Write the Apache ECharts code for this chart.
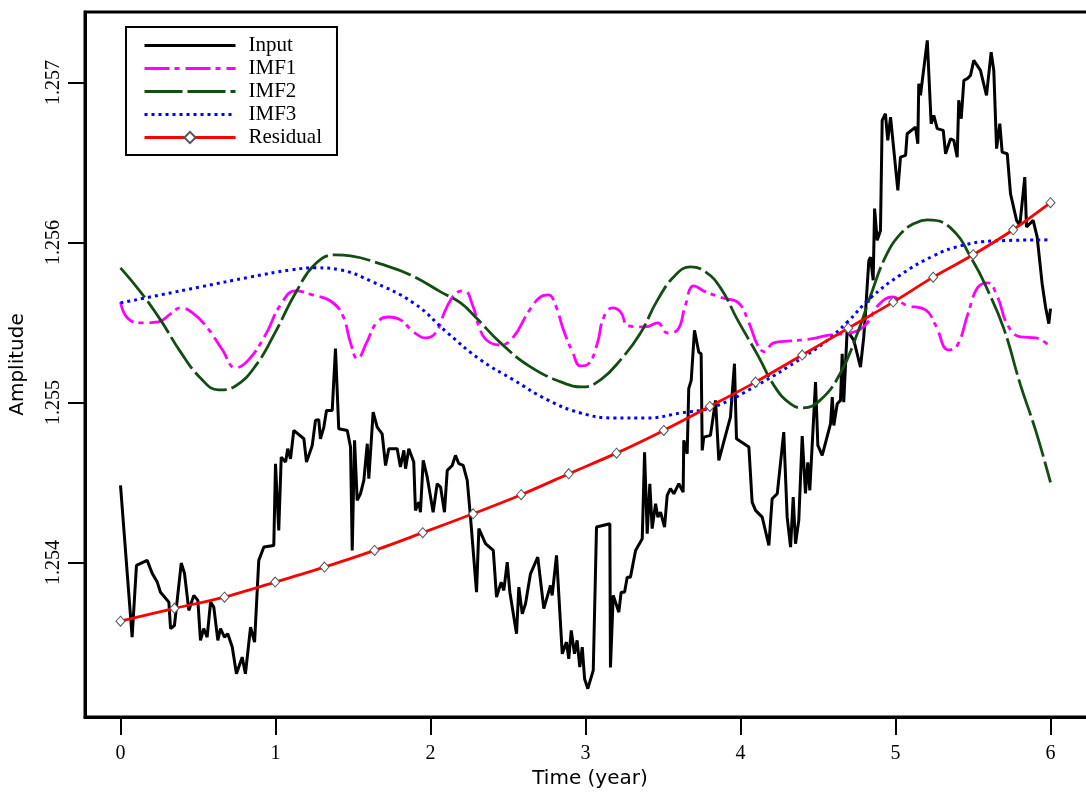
<!DOCTYPE html>
<html>
<head>
<meta charset="utf-8">
<title>Input, IMFs and residual</title>
<script src="https://cdn.jsdelivr.net/npm/echarts@6.0.0/dist/echarts.min.js"></script>
<style>
html, body { margin: 0; padding: 0; background: #fff; }
#chart { width: 1086px; height: 792px; }
</style>
</head>
<body>
<div id="chart"></div>
<script>
// [time (year), amplitude]
var inputPts = [
    [0, 1.254481], [0.075, 1.253533], [0.103, 1.253981], [0.172, 1.254013], [0.205, 1.253931],
    [0.237, 1.253877], [0.258, 1.253814], [0.312, 1.253752], [0.323, 1.253586], [0.348, 1.253606],
    [0.392, 1.253996], [0.413, 1.253931], [0.441, 1.253700], [0.473, 1.253794], [0.499, 1.253763],
    [0.516, 1.253513], [0.537, 1.253586], [0.559, 1.253533], [0.581, 1.253752], [0.602, 1.253721],
    [0.628, 1.253513], [0.645, 1.253586], [0.671, 1.253533], [0.692, 1.253554], [0.721, 1.253471],
    [0.748, 1.253304], [0.785, 1.253408], [0.806, 1.253304], [0.839, 1.253596], [0.865, 1.253502],
    [0.892, 1.254013], [0.925, 1.254096], [0.989, 1.254106], [1.000, 1.254617], [1.021, 1.254200],
    [1.037, 1.254658], [1.065, 1.254627], [1.079, 1.254711], [1.097, 1.254648], [1.118, 1.254825],
    [1.183, 1.254773], [1.200, 1.254627], [1.237, 1.254731], [1.258, 1.254888], [1.279, 1.254892],
    [1.290, 1.254773], [1.312, 1.254846], [1.329, 1.254950], [1.366, 1.254950], [1.387, 1.255336],
    [1.408, 1.254836], [1.463, 1.254825], [1.484, 1.254721], [1.495, 1.254075], [1.510, 1.254763],
    [1.527, 1.254388], [1.548, 1.254429], [1.570, 1.254513], [1.592, 1.254742], [1.602, 1.254523],
    [1.630, 1.254939], [1.656, 1.254846], [1.688, 1.254804], [1.710, 1.254606], [1.731, 1.254711],
    [1.785, 1.254711], [1.806, 1.254596], [1.828, 1.254700], [1.839, 1.254586], [1.860, 1.254711],
    [1.892, 1.254627], [1.903, 1.254325], [1.925, 1.254377], [1.935, 1.254314], [1.953, 1.254638],
    [1.979, 1.254533], [2.017, 1.254314], [2.043, 1.254492], [2.065, 1.254471], [2.090, 1.254314],
    [2.108, 1.254575], [2.140, 1.254606], [2.161, 1.254669], [2.183, 1.254617], [2.211, 1.254606],
    [2.237, 1.254513], [2.258, 1.254283], [2.297, 1.253814], [2.312, 1.254211], [2.355, 1.254117],
    [2.405, 1.254075], [2.426, 1.253783], [2.456, 1.253877], [2.473, 1.253825], [2.495, 1.254002],
    [2.512, 1.253814], [2.555, 1.253554], [2.570, 1.253846], [2.592, 1.253679], [2.613, 1.253742],
    [2.645, 1.253929], [2.692, 1.254033], [2.731, 1.253711], [2.774, 1.253856], [2.785, 1.253794],
    [2.813, 1.254044], [2.850, 1.253429], [2.877, 1.253502], [2.892, 1.253398], [2.908, 1.253575],
    [2.929, 1.253429], [2.946, 1.253513], [2.963, 1.253346], [2.979, 1.253471], [2.994, 1.253273],
    [3.015, 1.253211], [3.050, 1.253325], [3.071, 1.254221], [3.157, 1.254242], [3.161, 1.253344],
    [3.179, 1.253794], [3.215, 1.253689], [3.230, 1.253814], [3.252, 1.253814], [3.269, 1.253908],
    [3.290, 1.253908], [3.323, 1.254075], [3.366, 1.254148], [3.381, 1.254689], [3.398, 1.254179],
    [3.415, 1.254492], [3.430, 1.254211], [3.452, 1.254367], [3.467, 1.254283], [3.484, 1.254314],
    [3.510, 1.254221], [3.527, 1.254419], [3.548, 1.254461], [3.570, 1.254429], [3.602, 1.254492],
    [3.630, 1.254439], [3.634, 1.254763], [3.656, 1.254679], [3.666, 1.255086], [3.682, 1.255138],
    [3.703, 1.255450], [3.731, 1.255314], [3.746, 1.255304], [3.753, 1.254700], [3.763, 1.254783],
    [3.806, 1.254794], [3.839, 1.255013], [3.860, 1.254638], [3.935, 1.254908], [3.961, 1.255242],
    [3.974, 1.254773], [4.054, 1.254721], [4.075, 1.254377], [4.097, 1.254325], [4.140, 1.254283],
    [4.183, 1.254106], [4.204, 1.254398], [4.237, 1.254429], [4.279, 1.254814], [4.301, 1.254283],
    [4.323, 1.254096], [4.340, 1.254408], [4.355, 1.254117], [4.376, 1.254263], [4.398, 1.254789],
    [4.419, 1.254431], [4.434, 1.254625], [4.447, 1.254450], [4.484, 1.255127], [4.499, 1.254731],
    [4.527, 1.254669], [4.581, 1.254867], [4.592, 1.255033], [4.602, 1.254856], [4.624, 1.254992],
    [4.645, 1.255013], [4.656, 1.255304], [4.666, 1.255002], [4.688, 1.255450], [4.731, 1.255388],
    [4.774, 1.255221], [4.795, 1.255408], [4.806, 1.255554], [4.828, 1.255888], [4.839, 1.255908],
    [4.856, 1.255763], [4.865, 1.256211], [4.882, 1.256013], [4.903, 1.256075], [4.914, 1.256763],
    [4.935, 1.256804], [4.950, 1.256638], [4.968, 1.256783], [5.015, 1.256325], [5.032, 1.256533],
    [5.065, 1.256544], [5.075, 1.256679], [5.129, 1.256721], [5.144, 1.256617], [5.150, 1.256992],
    [5.161, 1.256919], [5.205, 1.257263], [5.230, 1.256742], [5.247, 1.256794], [5.269, 1.256711],
    [5.308, 1.256700], [5.323, 1.256554], [5.355, 1.256648], [5.376, 1.256638], [5.398, 1.256533],
    [5.408, 1.256888], [5.424, 1.256773], [5.441, 1.257013], [5.463, 1.257023], [5.484, 1.257044],
    [5.505, 1.257138], [5.548, 1.257075], [5.587, 1.256919], [5.617, 1.257189], [5.634, 1.257075],
    [5.652, 1.256586], [5.673, 1.256742], [5.688, 1.256564], [5.721, 1.256554], [5.742, 1.256304],
    [5.781, 1.256138], [5.802, 1.256106], [5.834, 1.256408], [5.845, 1.256096], [5.888, 1.256138],
    [5.914, 1.256033], [5.946, 1.255742], [5.968, 1.255596], [5.989, 1.255492], [6.000, 1.255586]
];

var imf1Pts = [
    [0, 1.255628], [0.045, 1.255528], [0.129, 1.255497], [0.245, 1.255503], [0.323, 1.255553],
    [0.387, 1.255591], [0.465, 1.255559], [0.561, 1.255466], [0.658, 1.255328], [0.742, 1.255216],
    [0.826, 1.255266], [0.935, 1.255422], [1.032, 1.255609], [1.129, 1.255697], [1.239, 1.255672],
    [1.355, 1.255634], [1.432, 1.255547], [1.484, 1.255372], [1.529, 1.255272], [1.587, 1.255372],
    [1.652, 1.255497], [1.729, 1.255534], [1.806, 1.255516], [1.890, 1.255441], [1.968, 1.255403],
    [2.032, 1.255434], [2.103, 1.255591], [2.168, 1.255684], [2.219, 1.255697], [2.271, 1.255609],
    [2.329, 1.255434], [2.387, 1.255372], [2.452, 1.255359], [2.535, 1.255409], [2.632, 1.255566],
    [2.710, 1.255659], [2.761, 1.255672], [2.806, 1.255609], [2.858, 1.255453], [2.916, 1.255316],
    [2.968, 1.255228], [3.019, 1.255241], [3.077, 1.255372], [3.116, 1.255528], [3.174, 1.255591],
    [3.226, 1.255566], [3.277, 1.255478], [3.387, 1.255472], [3.465, 1.255497], [3.529, 1.255434],
    [3.594, 1.255453], [3.645, 1.255609], [3.697, 1.255728], [3.774, 1.255691], [3.884, 1.255653],
    [3.987, 1.255622], [4.052, 1.255503], [4.110, 1.255359], [4.155, 1.255316], [4.213, 1.255372],
    [4.323, 1.255384], [4.452, 1.255397], [4.581, 1.255422], [4.710, 1.255434], [4.806, 1.255484],
    [4.890, 1.255609], [4.981, 1.255659], [5.065, 1.255609], [5.194, 1.255578], [5.258, 1.255484],
    [5.342, 1.255328], [5.400, 1.255359], [5.465, 1.255547], [5.529, 1.255716], [5.594, 1.255747],
    [5.658, 1.255659], [5.723, 1.255484], [5.806, 1.255409], [5.903, 1.255403], [6.000, 1.255347]
];

var imf2Pts = [
    [0, 1.255841], [0.129, 1.255691], [0.258, 1.255516], [0.387, 1.255316], [0.516, 1.255153],
    [0.632, 1.255078], [0.742, 1.255103], [0.871, 1.255228], [1.000, 1.255441], [1.129, 1.255684],
    [1.258, 1.255866], [1.387, 1.255922], [1.484, 1.255916], [1.677, 1.255866], [1.871, 1.255797],
    [2.065, 1.255691], [2.194, 1.255622], [2.290, 1.255534], [2.452, 1.255372], [2.645, 1.255222],
    [2.858, 1.255122], [2.981, 1.255097], [3.097, 1.255141], [3.226, 1.255266], [3.355, 1.255434],
    [3.465, 1.255641], [3.581, 1.255797], [3.677, 1.255847], [3.774, 1.255816], [3.871, 1.255716],
    [3.981, 1.255516], [4.110, 1.255297], [4.226, 1.255091], [4.323, 1.254991], [4.400, 1.254966],
    [4.516, 1.255016], [4.645, 1.255184], [4.755, 1.255434], [4.839, 1.255666], [4.935, 1.255909],
    [5.032, 1.256053], [5.129, 1.256122], [5.206, 1.256141], [5.355, 1.256091], [5.503, 1.255878],
    [5.594, 1.255703], [5.697, 1.255466], [5.806, 1.255110], [5.903, 1.254828], [6.000, 1.254500]
];

var imf3Pts = [
    [0, 1.255622], [0.258, 1.255672], [0.516, 1.255722], [0.839, 1.255784], [1.097, 1.255828],
    [1.258, 1.255841], [1.419, 1.255828], [1.613, 1.255759], [1.890, 1.255622], [2.110, 1.255434],
    [2.323, 1.255266], [2.535, 1.255141], [2.755, 1.255016], [2.968, 1.254934], [3.181, 1.254903],
    [3.400, 1.254903], [3.613, 1.254934], [3.826, 1.254972], [4.110, 1.255109], [4.406, 1.255284],
    [4.548, 1.255378], [4.690, 1.255503], [4.839, 1.255653], [5.032, 1.255797], [5.245, 1.255916],
    [5.419, 1.255978], [5.632, 1.256009], [6.000, 1.256016]
];

var residualPts = [
    [0, 1.253633], [0.348, 1.253713], [0.671, 1.253783], [0.998, 1.253877], [1.316, 1.253971],
    [1.639, 1.254075], [1.950, 1.254186], [2.275, 1.254304], [2.585, 1.254423], [2.892, 1.254554],
    [3.200, 1.254683], [3.505, 1.254825], [3.802, 1.254975], [4.097, 1.255127], [4.398, 1.255296],
    [4.695, 1.255464], [4.985, 1.255627], [5.243, 1.255783], [5.501, 1.255923], [5.759, 1.256079],
    [6.000, 1.256248]
];

var seriesNames = ['Input', 'IMF1', 'IMF2', 'IMF3', 'Residual'];
var xTicks = [0, 1, 2, 3, 4, 5, 6];
var yTicks = [1.254, 1.255, 1.256, 1.257];

var chart = echarts.init(document.getElementById('chart'));

var serif = '"Liberation Serif", "DejaVu Serif", serif';
var sans = '"DejaVu Sans", sans-serif';

// legend entries: hide the default symbol for the plain lines
var legendData = seriesNames.map(function (name) {
    if (name === 'Residual') {
        return { name: name, lineStyle: { width: 3 } };
    }
    return { name: name, itemStyle: { opacity: 0 }, lineStyle: { width: 3 } };
});

var option = {
    animation: false,
    backgroundColor: '#fff',
    grid: {
        left: 85,
        top: 12,
        width: 1010,
        height: 705,
        outerBoundsMode: 'none',
        containLabel: false,
        show: true,
        borderColor: '#000',
        borderWidth: 3,
        backgroundColor: 'transparent'
    },
    legend: {
        orient: 'vertical',
        left: 126,
        top: 27,
        padding: [8, 15, 7, 17],
        borderColor: '#000',
        borderWidth: 2,
        backgroundColor: '#fff',
        itemWidth: 91,
        itemHeight: 14,
        itemGap: 2,
        data: legendData,
        textStyle: {
            fontFamily: serif,
            fontSize: 21,
            lineHeight: 21,
            color: '#000',
            padding: [0, 0, 0, 8]
        }
    },
    xAxis: {
        type: 'value',
        min: -0.229,
        max: 6.287,
        name: 'Time (year)',
        nameLocation: 'middle',
        nameGap: 52,
        nameTextStyle: { fontFamily: sans, fontSize: 20, color: '#000' },
        axisLine: { show: true, onZero: false, lineStyle: { color: '#000', width: 3 } },
        axisTick: {
            show: true,
            customValues: xTicks,
            length: 18,
            lineStyle: { color: '#000', width: 2 }
        },
        axisLabel: {
            customValues: xTicks,
            margin: 27,
            fontFamily: serif,
            fontSize: 20,
            color: '#000'
        },
        splitLine: { show: false }
    },
    yAxis: {
        type: 'value',
        min: 1.253034,
        max: 1.25744,
        name: 'Amplitude',
        nameLocation: 'middle',
        nameGap: 57,
        nameTextStyle: { fontFamily: sans, fontSize: 20, color: '#000' },
        axisLine: { show: true, onZero: false, lineStyle: { color: '#000', width: 3 } },
        axisTick: {
            show: true,
            customValues: yTicks,
            length: 17,
            lineStyle: { color: '#000', width: 2 }
        },
        axisLabel: {
            customValues: yTicks,
            rotate: 90,
            margin: 21,
            fontFamily: serif,
            fontSize: 20,
            color: '#000',
            formatter: function (v) { return v.toFixed(3); }
        },
        splitLine: { show: false }
    },
    series: [
        {
            name: 'Input',
            type: 'line',
            data: inputPts,
            symbol: 'none',
            lineStyle: { color: '#000', width: 3 },
            itemStyle: { color: '#000' },
            z: 2
        },
        {
            name: 'IMF1',
            type: 'line',
            data: imf1Pts,
            symbol: 'none',
            smooth: 0.45,
            lineStyle: { color: '#ff00ff', width: 2.8, type: [25, 5, 5, 6] },
            itemStyle: { color: '#ff00ff' },
            z: 3
        },
        {
            name: 'IMF2',
            type: 'line',
            data: imf2Pts,
            symbol: 'none',
            smooth: 0.45,
            lineStyle: { color: '#124d12', width: 2.8, type: [38, 5] },
            itemStyle: { color: '#124d12' },
            z: 3
        },
        {
            name: 'IMF3',
            type: 'line',
            data: imf3Pts,
            symbol: 'none',
            smooth: 0.45,
            lineStyle: { color: '#0000ff', width: 3, type: [3, 4] },
            itemStyle: { color: '#0000ff' },
            z: 3
        },
        {
            name: 'Residual',
            type: 'line',
            data: residualPts,
            symbol: 'diamond',
            symbolSize: [9, 10],
            showSymbol: true,
            smooth: 0.3,
            lineStyle: { color: '#ff0000', width: 2.8 },
            itemStyle: { color: '#fff', borderColor: '#555', borderWidth: 1 },
            z: 4
        }
    ]
};

chart.setOption(option);
</script>
</body>
</html>
